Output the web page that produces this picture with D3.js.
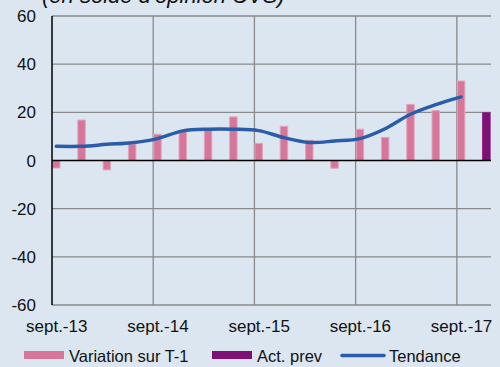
<!DOCTYPE html>
<html>
<head>
<meta charset="utf-8">
<script src="https://cdn.jsdelivr.net/npm/d3@7"></script>
<style>
  html, body { margin: 0; padding: 0; background: #dce6f1; }
  svg { display: block; font-family: "Liberation Sans", Arial, sans-serif; }
</style>
</head>
<body>
<svg id="chart" width="500" height="367"></svg>
<script>
// Quarterly survey balances, sept.-13 to déc.-17
const quarters = ["sept.-13","déc.-13","mars-14","juin-14","sept.-14","déc.-14","mars-15","juin-15",
                  "sept.-15","déc.-15","mars-16","juin-16","sept.-16","déc.-16","mars-17","juin-17",
                  "sept.-17","déc.-17"];
const variation = [-3.1, 16.8, -3.9, 6.7, 10.9, 12.3, 12.7, 18.1, 7.1, 14.2, 8.4, -3.2,
                   13.0, 9.6, 23.3, 20.7, 33.0, null];
const actPrev   = [null, null, null, null, null, null, null, null, null, null, null, null,
                   null, null, null, null, null, 20.0];
const tendance  = [5.9, 5.9, 6.7, 7.4, 9.1, 12.3, 13.0, 13.0, 12.4, 9.5, 7.5, 8.1,
                   9.1, 13.2, 19.2, 23.2, 26.4, null];
const yTicks = [-60, -40, -20, 0, 20, 40, 60];
const xTickLabels = ["sept.-13", "sept.-14", "sept.-15", "sept.-16", "sept.-17"];
const seriesNames = ["Variation sur T-1", "Act. prev", "Tendance"];
const title = "(en solde d'opinion CVS)";

const colors = { variation: "#d6779a", variationEdge: "#e3a3bc", prev: "#7e1173", trend: "#2a5ca9",
                 grid: "#8a8a8a", axis: "#000000", text: "#111111" };

const svg = d3.select("#chart");
const plot = { left: 52, right: 491, top: 16, bottom: 305 };

const x = d3.scaleLinear().domain([0, 17.35]).range([plot.left, plot.right]);
const y = d3.scaleLinear().domain([-60, 60]).range([plot.bottom, plot.top]);
const step = x(1) - x(0);
const barW = step * 0.335;

// title (partly above the frame)
svg.append("text")
  .attr("x", 42).attr("y", 3)
  .attr("font-size", 22).attr("font-style", "italic")
  .attr("fill", colors.text)
  .text(title);

// horizontal grid
svg.append("g").selectAll("line").data(yTicks.filter(d => d !== 0)).join("line")
  .attr("x1", plot.left).attr("x2", plot.right)
  .attr("y1", d => y(d)).attr("y2", d => y(d))
  .attr("stroke", colors.grid).attr("stroke-width", 1.3);

// vertical grid at each September
const yearIdx = xTickLabels.map(l => quarters.indexOf(l));
svg.append("g").selectAll("line").data(yearIdx.filter(i => i > 0)).join("line")
  .attr("x1", d => x(d)).attr("x2", d => x(d))
  .attr("y1", plot.top).attr("y2", plot.bottom)
  .attr("stroke", colors.grid).attr("stroke-width", 1.3);

// y tick labels
svg.append("g").selectAll("text").data(yTicks).join("text")
  .attr("x", 36).attr("y", d => y(d) + 6)
  .attr("text-anchor", "end").attr("font-size", 17)
  .attr("fill", colors.text)
  .text(d => d);

// x tick labels
svg.append("g").selectAll("text").data(yearIdx).join("text")
  .attr("x", d => x(d) + barW / 2 + 0.5).attr("y", 332)
  .attr("text-anchor", "middle").attr("font-size", 17)
  .attr("fill", colors.text)
  .text((d, i) => xTickLabels[i]);

// bars: quarterly variation
svg.append("g").selectAll("rect")
  .data(variation.map((v, i) => ({ v, i })).filter(d => d.v !== null)).join("rect")
  .attr("x", d => x(d.i) + 0.5)
  .attr("width", barW - 1)
  .attr("y", d => y(Math.max(0, d.v)))
  .attr("height", d => Math.abs(y(d.v) - y(0)))
  .attr("fill", colors.variation)
  .attr("stroke", colors.variationEdge).attr("stroke-width", 1);

// bar: forecast activity
svg.append("g").selectAll("rect")
  .data(actPrev.map((v, i) => ({ v, i })).filter(d => d.v !== null)).join("rect")
  .attr("x", d => x(d.i))
  .attr("width", barW)
  .attr("y", d => y(Math.max(0, d.v)))
  .attr("height", d => Math.abs(y(d.v) - y(0)))
  .attr("fill", colors.prev);

// axes: left and zero line
svg.append("line").attr("x1", plot.left).attr("x2", plot.left).attr("y1", plot.top).attr("y2", plot.bottom)
  .attr("stroke", colors.axis).attr("stroke-width", 1.5);
svg.append("line").attr("x1", plot.left).attr("x2", plot.right).attr("y1", y(0)).attr("y2", y(0))
  .attr("stroke", colors.axis).attr("stroke-width", 1.5);

// trend line
const line = d3.line()
  .defined(d => d.v !== null)
  .x(d => x(d.i) + barW / 2)
  .y(d => y(d.v))
  .curve(d3.curveCatmullRom.alpha(0.5));
svg.append("path")
  .datum(tendance.map((v, i) => ({ v, i })))
  .attr("d", line)
  .attr("fill", "none")
  .attr("stroke", colors.trend).attr("stroke-width", 3.5)
  .attr("stroke-linecap", "round");

// legend
const lg = svg.append("g").attr("font-size", 16.5).attr("fill", colors.text);
lg.append("rect").attr("x", 24).attr("y", 351).attr("width", 40).attr("height", 8).attr("fill", colors.variation);
lg.append("text").attr("x", 69).attr("y", 362).text(seriesNames[0]);
lg.append("rect").attr("x", 212).attr("y", 351).attr("width", 40).attr("height", 8).attr("fill", colors.prev);
lg.append("text").attr("x", 257).attr("y", 362).text(seriesNames[1]);
lg.append("line").attr("x1", 342).attr("x2", 384).attr("y1", 355.5).attr("y2", 355.5)
  .attr("stroke", colors.trend).attr("stroke-width", 3.5).attr("stroke-linecap", "round");
lg.append("text").attr("x", 389).attr("y", 362).text(seriesNames[2]);
</script>
</body>
</html>
